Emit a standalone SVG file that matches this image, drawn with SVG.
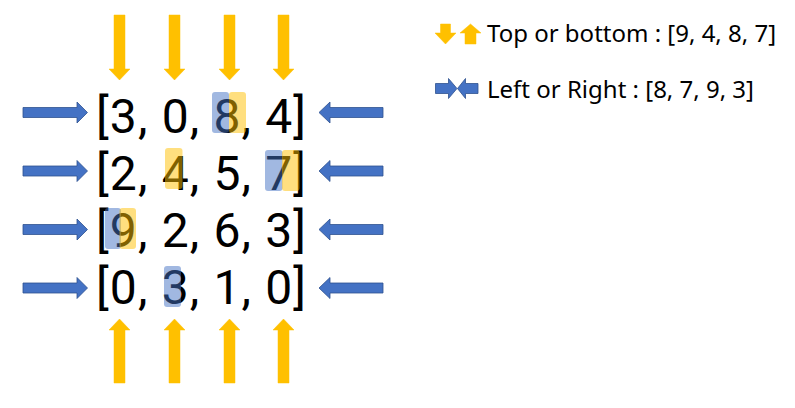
<svg xmlns="http://www.w3.org/2000/svg" width="795" height="408" viewBox="0 0 795 408">
<style>
.bg{fill:#ffffff}
.ya{fill:#FFC000;stroke:#FFC000;stroke-width:0.5}
.ba{fill:#4472C4;stroke:#2F528F;stroke-width:0.8}
.num{font-family:Roboto,"Noto Sans",sans-serif;font-size:48px;font-weight:400;fill:#000}
.leg{font-family:"Noto Sans","DejaVu Sans",sans-serif;font-size:24px;fill:#000}
.hb{fill:#4472C4;fill-opacity:0.5}
.hy{fill:#FFC000;fill-opacity:0.5}
</style>
<defs>
<path id="down" d="M-5.5,0 H5.5 V54 H10.5 L0,65 L-10.5,54 H-5.5 Z"/>
<path id="up" d="M-5.5,64 H5.5 V11 H10.5 L0,0 L-10.5,11 H-5.5 Z"/>
<path id="right" d="M0,-5 H54 V-10.5 L64.5,0 L54,10.5 V5 H0 Z"/>
<path id="left" d="M64,-5 H11 V-10.5 L0,0 L11,10.5 V5 H64 Z"/>
</defs>
<rect class="bg" x="0" y="0" width="795" height="408"/>
<g id="connectors">
<use href="#down" class="ya" x="119.5" y="15"/>
<use href="#down" class="ya" x="174.5" y="15"/>
<use href="#down" class="ya" x="229.5" y="15"/>
<use href="#down" class="ya" x="283.5" y="15"/>
<use href="#up" class="ya" x="119.5" y="319"/>
<use href="#up" class="ya" x="174.5" y="319"/>
<use href="#up" class="ya" x="229.5" y="319"/>
<use href="#up" class="ya" x="283.5" y="319"/>
<use href="#right" class="ba" x="23" y="112.5"/>
<use href="#right" class="ba" x="23" y="171"/>
<use href="#right" class="ba" x="23" y="229.5"/>
<use href="#right" class="ba" x="23" y="288"/>
<use href="#left" class="ba" x="319" y="112.5"/>
<use href="#left" class="ba" x="319" y="171"/>
<use href="#left" class="ba" x="319" y="229.5"/>
<use href="#left" class="ba" x="319" y="288"/>
</g>
<g id="row1">
<text class="num" x="96" y="133" textLength="210" lengthAdjust="spacing">[3, 0, 8, 4]</text>
<rect class="hb" x="212" y="92" width="17" height="41" rx="3"/>
<rect class="hy" x="229" y="92" width="17" height="41" rx="3"/>
</g>
<g id="row2">
<text class="num" x="96" y="190" textLength="210" lengthAdjust="spacing">[2, 4, 5, 7]</text>
<rect class="hy" x="165" y="148" width="17.5" height="41" rx="3"/>
<rect class="hb" x="265" y="150" width="17.5" height="41" rx="3"/>
<rect class="hy" x="282" y="150" width="17.5" height="41" rx="3"/>
</g>
<g id="row3">
<text class="num" x="96" y="247" textLength="210" lengthAdjust="spacing">[9, 2, 6, 3]</text>
<rect class="hb" x="105" y="208" width="16" height="41" rx="3"/>
<rect class="hy" x="119.5" y="208" width="16.5" height="41" rx="3"/>
</g>
<g id="row4">
<text class="num" x="96" y="304" textLength="210" lengthAdjust="spacing">[0, 3, 1, 0]</text>
<rect class="hb" x="164" y="266" width="17" height="41" rx="3"/>
</g>
<g id="legend-top-bottom">
<path class="ya" d="M440.5,24 H450.5 V33 H456 L445.5,44 L435,33 H440.5 Z"/>
<path class="ya" d="M465,44 H476 V33 H481 L470.5,24 L460,33 H465 Z"/>
<text class="leg" x="487" y="42">Top or bottom : [9, 4, 8, 7]</text>
</g>
<g id="legend-left-right">
<path class="ba" d="M435.5,83.5 H448.5 V78.5 L457,88.5 L448.5,98.5 V93.5 H435.5 Z"/>
<path class="ba" d="M478,83.5 H465.5 V78.5 L457.5,88.5 L465.5,98.5 V93.5 H478 Z"/>
<text class="leg" x="487" y="98">Left or Right : [8, 7, 9, 3]</text>
</g>
</svg>
